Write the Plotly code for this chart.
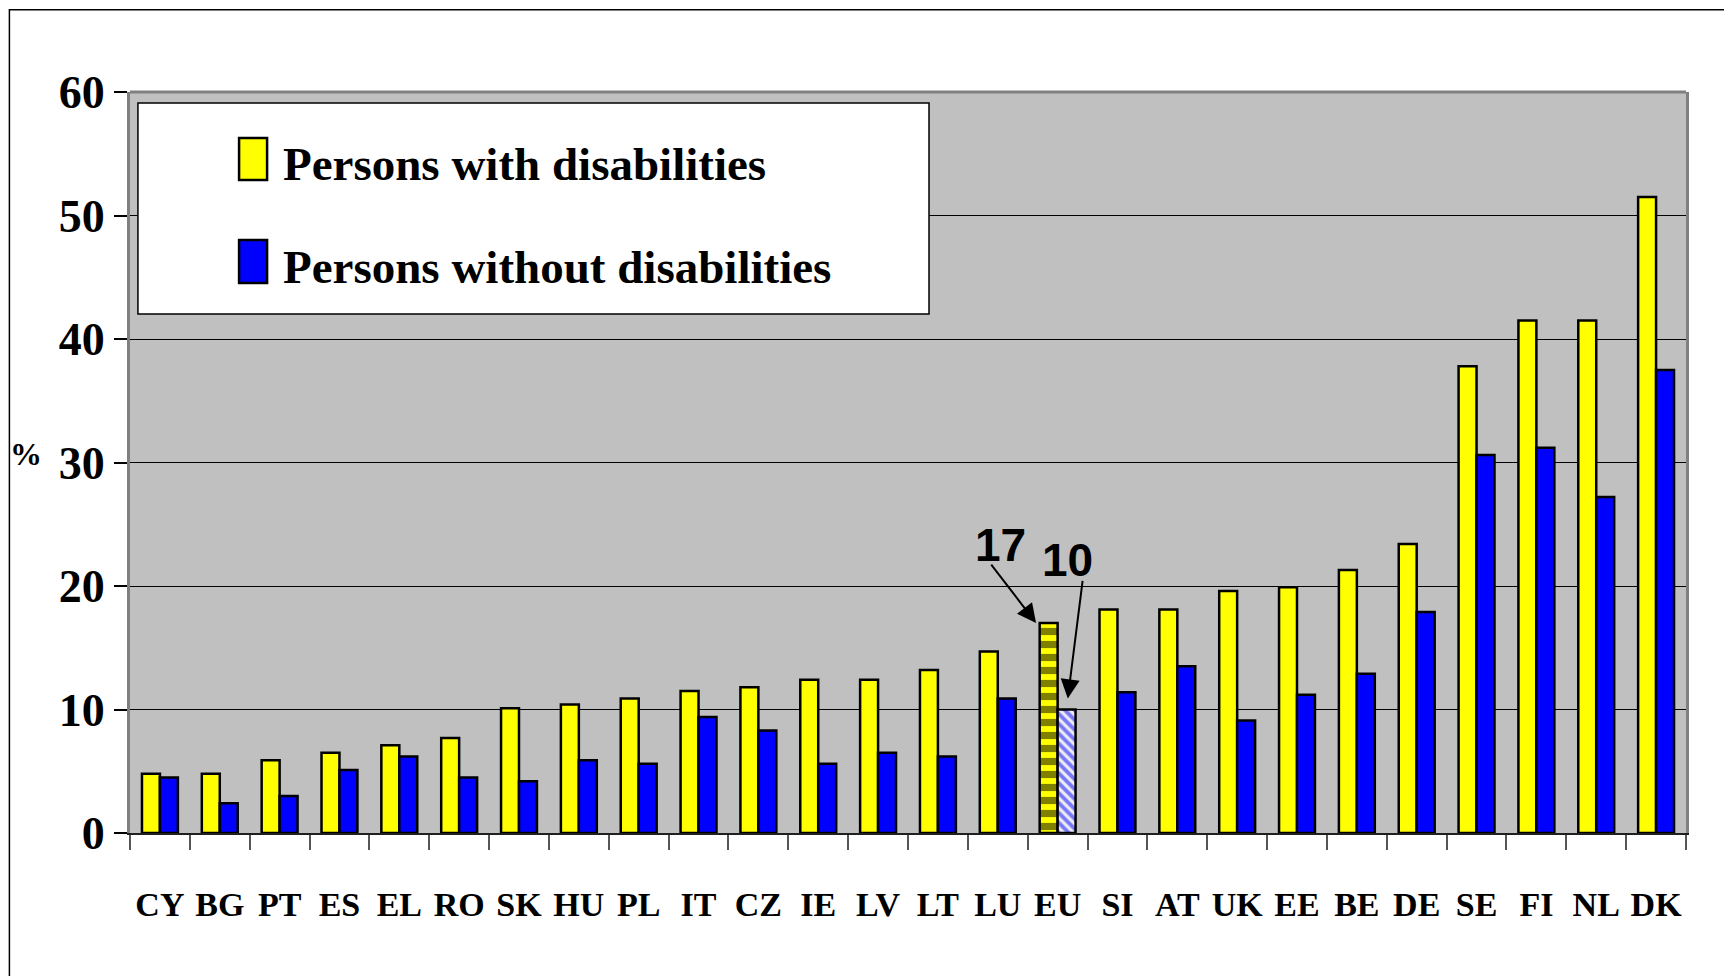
import plotly.graph_objects as go

# Data (%)
countries = ['CY', 'BG', 'PT', 'ES', 'EL', 'RO', 'SK', 'HU', 'PL', 'IT', 'CZ', 'IE', 'LV',
             'LT', 'LU', 'EU', 'SI', 'AT', 'UK', 'EE', 'BE', 'DE', 'SE', 'FI', 'NL', 'DK']
with_disab = [4.8, 4.8, 5.9, 6.5, 7.1, 7.7, 10.1, 10.4, 10.9, 11.5, 11.8, 12.4, 12.4,
              13.2, 14.7, 17.0, 18.1, 18.1, 19.6, 19.9, 21.3, 23.4, 37.8, 41.5, 41.5, 51.5]
without_disab = [4.5, 2.4, 3.0, 5.1, 6.2, 4.5, 4.2, 5.9, 5.6, 9.4, 8.3, 5.6, 6.5,
                 6.2, 10.9, 10.0, 11.4, 13.5, 9.1, 11.2, 12.9, 17.9, 30.6, 31.2, 27.2, 37.5]
series_names = ['Persons with disabilities', 'Persons without disabilities']
eu_labels = ['17', '10']

SERIF = 'Liberation Serif'
SANS = 'Liberation Sans'

# EU bars get the hatched look
is_eu = [c == 'EU' for c in countries]
pat_yellow = dict(shape=['-' if e else '' for e in is_eu],
                  fgcolor='black', bgcolor='#ffff00', size=13, solidity=0.55)
pat_blue = dict(shape=['\\' if e else '' for e in is_eu],
                fgcolor='#0000ff', bgcolor='#eeeef4', size=7, solidity=0.55)

fig = go.Figure()
fig.add_trace(go.Bar(x=countries, y=with_disab, name=series_names[0], showlegend=False,
                     marker=dict(color='#ffff00', line=dict(color='black', width=2.5),
                                 pattern=pat_yellow)))
fig.add_trace(go.Bar(x=countries, y=without_disab, name=series_names[1], showlegend=False,
                     marker=dict(color='#0000ff', line=dict(color='black', width=2.5),
                                 pattern=pat_blue)))

# page body has an 8px margin, so the figure is a bit smaller than the window
fig.update_layout(
    width=1724, height=968,
    margin=dict(l=122, r=46, t=84, b=143),
    paper_bgcolor='white', plot_bgcolor='#c0c0c0',
    barmode='group', bargap=0.4, bargroupgap=0,
)

fig.update_xaxes(
    type='category', showline=True, linecolor='#202020', linewidth=2,
    ticks='outside', tickson='boundaries', ticklen=15, tickcolor='#555555', tickwidth=1.5,
    ticklabelstandoff=40, tickangle=0,
    tickfont=dict(family=SERIF, size=34, color='black', weight='bold'),
)
fig.update_yaxes(
    range=[0, 60], dtick=10, showline=True, linecolor='#808080', linewidth=3, mirror=True,
    showgrid=True, gridcolor='black', gridwidth=1.2, zeroline=False,
    ticks='outside', ticklen=13, tickcolor='black', tickwidth=1.5,
    tickfont=dict(family=SERIF, size=46, color='black', weight='bold'),
)

# Gray top edge of the plot area and the outer frame
fig.add_shape(type='line', xref='paper', yref='paper', x0=0, x1=1, y0=1, y1=1,
              line=dict(color='#808080', width=3), layer='above')
fig.add_shape(type='rect', xref='paper', yref='paper', x0=-0.0775, x1=1.0283,
              y0=-0.2, y1=1.111, line=dict(color='black', width=1.5), layer='below')

# Legend box (drawn by hand so the swatches are full size)
fig.add_shape(type='rect', xref='paper', yref='paper', x0=0.0051, x1=0.5135,
              y0=0.7004, y1=0.9852, fillcolor='white', line=dict(color='black', width=1.5),
              layer='above')
legend_rows = [(0.9379, 0.8812, 0.9028, '#ffff00'), (0.8003, 0.7422, 0.7638, '#0000ff')]
for name, (sy1, sy0, ty, col) in zip(series_names, legend_rows):
    fig.add_shape(type='rect', xref='paper', yref='paper', x0=0.0701, x1=0.0881,
                  y0=sy0, y1=sy1, fillcolor=col, line=dict(color='black', width=2.5),
                  layer='above')
    fig.add_annotation(xref='paper', yref='paper', x=0.0970, y=ty, text=name,
                       showarrow=False, xanchor='left', yanchor='middle',
                       font=dict(family=SERIF, size=47, color='black', weight='bold'))

# "%" axis label
fig.add_annotation(xref='paper', yref='paper', x=-0.0784, y=0.511, text='%',
                   showarrow=False, font=dict(family=SERIF, size=32, color='black', weight='bold'))

# EU callouts: labels and arrows
fig.add_annotation(x=14.04, y=23.3, text=eu_labels[0], showarrow=False,
                   font=dict(family=SANS, size=46, color='black', weight='bold'))
fig.add_annotation(x=15.16, y=22.1, text=eu_labels[1], showarrow=False,
                   font=dict(family=SANS, size=46, color='black', weight='bold'))
fig.add_annotation(x=14.64, y=17.0, text='', showarrow=True, ax=-46, ay=-60,
                   arrowhead=2, arrowsize=1.9, arrowwidth=2, arrowcolor='black')
fig.add_annotation(x=15.17, y=10.9, text='', showarrow=True, ax=15, ay=-119,
                   arrowhead=2, arrowsize=1.9, arrowwidth=2, arrowcolor='black')

fig.write_html('out.html')
